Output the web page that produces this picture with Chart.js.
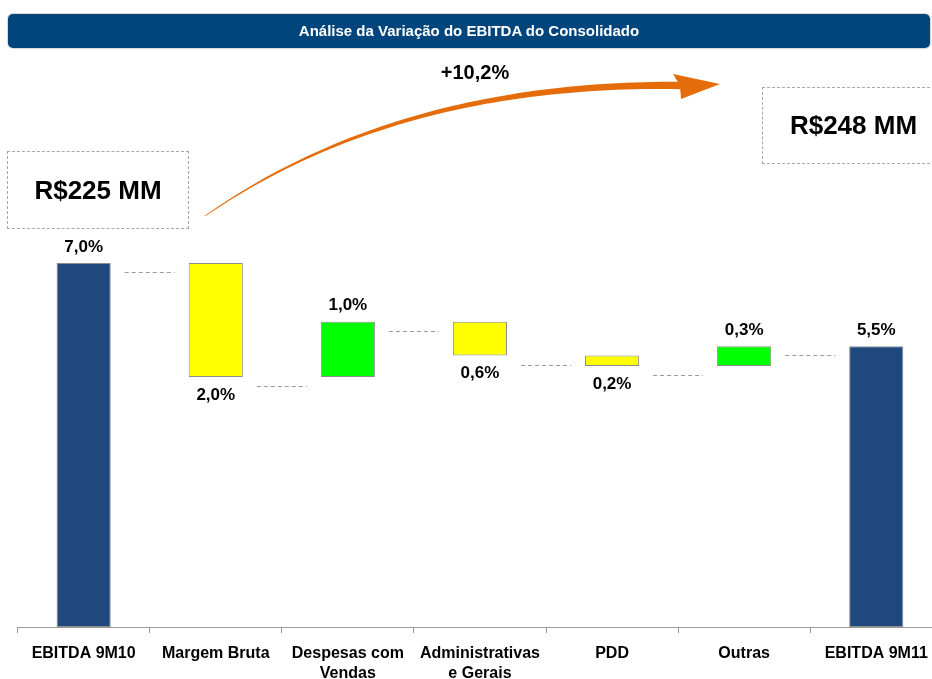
<!DOCTYPE html>
<html>
<head>
<meta charset="utf-8">
<script src="https://cdn.jsdelivr.net/npm/chart.js@4.4.1/dist/chart.umd.min.js"></script>
<style>
  html, body { margin: 0; padding: 0; overflow: hidden; background: #fff; }
  body { width: 932px; height: 679px; position: relative; font-family: "Liberation Sans", Arial, sans-serif; }
  .title-bar {
    position: absolute; left: 8px; top: 14px; width: 922px; height: 34px;
    background: #00457c; border-radius: 5px; box-shadow: 0 0 1px 1px #d8d8d0;
    color: #fff; font-weight: bold; font-size: 15px; line-height: 34px; text-align: center;
  }
  .box {
    position: absolute; border: 1px dashed #a8a8a8; box-sizing: border-box;
    display: flex; align-items: center; justify-content: center;
    font-weight: bold; font-size: 26px; color: #000;
  }
  .growth { position: absolute; left: 425px; top: 61px; width: 100px; text-align: center; font-weight: bold; font-size: 20px; color: #000; }
  .chart-wrap { position: absolute; left: 0; top: 0; width: 960px; height: 679px; }
</style>
</head>
<body>
<div class="chart-wrap"><canvas id="waterfall"></canvas></div>
<div class="title-bar">Análise da Variação do EBITDA do Consolidado</div>
<div class="box" style="left:7px; top:151px; width:182px; height:78px;">R$225 MM</div>
<div class="box" style="left:762px; top:87px; width:183px; height:77px;">R$248 MM</div>
<div class="growth">+10,2%</div>
<script>
// data (percent of revenue)
const categories = ["EBITDA 9M10", "Margem Bruta", ["Despesas com", "Vendas"], ["Administrativas", "e Gerais"], "PDD", "Outras", "EBITDA 9M11"];
const barKinds = ["total", "down", "up", "down", "down", "up", "total"];
const barFrom = [0, 4.81, 4.81, 5.22, 5.02, 5.02, 0];
const barTo = [7.0, 7.0, 5.87, 5.87, 5.22, 5.40, 5.40];
const valueLabels = ["7,0%", "2,0%", "1,0%", "0,6%", "0,2%", "0,3%", "5,5%"];

const FONT = '"Liberation Sans", Arial, sans-serif';
const kindColors = { total: "#1f497d", down: "#ffff00", up: "#00ff00" };

// level where each step ends, used for the dashed connectors
const stepEnds = barKinds.map((k, i) => (k === "down" ? barFrom[i] : barTo[i]));

const valueLabelPlugin = {
  id: "valueLabels",
  afterDatasetsDraw(chart) {
    const { ctx } = chart;
    const meta = chart.getDatasetMeta(0);
    ctx.save();
    ctx.font = "bold 17px " + FONT;
    ctx.fillStyle = "#000";
    ctx.textAlign = "center";
    ctx.textBaseline = "middle";
    meta.data.forEach((bar, i) => {
      const top = Math.min(bar.y, bar.base);
      const bottom = Math.max(bar.y, bar.base);
      if (barKinds[i] === "down") {
        ctx.fillText(valueLabels[i], bar.x, bottom + 18);
      } else {
        ctx.fillText(valueLabels[i], bar.x, top - 16);
      }
    });
    ctx.restore();
  }
};

const connectorPlugin = {
  id: "connectors",
  afterDatasetsDraw(chart) {
    const { ctx } = chart;
    const meta = chart.getDatasetMeta(0);
    const yScale = chart.scales.y;
    ctx.save();
    ctx.strokeStyle = "#9a9a9a";
    ctx.lineWidth = 1;
    ctx.setLineDash([4, 3]);
    for (let i = 0; i < meta.data.length - 1; i++) {
      const a = meta.data[i];
      const b = meta.data[i + 1];
      const y = Math.round(yScale.getPixelForValue(stepEnds[i]) + 9) + 0.5;
      ctx.beginPath();
      ctx.moveTo(a.x + a.width / 2 + 14, y);
      ctx.lineTo(b.x - b.width / 2 - 14, y);
      ctx.stroke();
    }
    ctx.restore();
  }
};

// curved orange arrow between the two EBITDA boxes
const arrowPlugin = {
  id: "growthArrow",
  afterDraw(chart) {
    const { ctx } = chart;
    const p0 = { x: 205, y: 216 };
    const c = { x: 398, y: 82 };
    const p2 = { x: 681, y: 85.5 };
    const n = 60;
    const left = [];
    const right = [];
    for (let s = 0; s <= n; s++) {
      const t = s / n;
      const x = (1 - t) * (1 - t) * p0.x + 2 * t * (1 - t) * c.x + t * t * p2.x;
      const y = (1 - t) * (1 - t) * p0.y + 2 * t * (1 - t) * c.y + t * t * p2.y;
      const dx = 2 * (1 - t) * (c.x - p0.x) + 2 * t * (p2.x - c.x);
      const dy = 2 * (1 - t) * (c.y - p0.y) + 2 * t * (p2.y - c.y);
      const len = Math.hypot(dx, dy);
      const hw = 0.4 + 3.3 * t;
      left.push([x - (dy / len) * hw, y + (dx / len) * hw]);
      right.push([x + (dy / len) * hw, y - (dx / len) * hw]);
    }
    ctx.save();
    ctx.fillStyle = "#e46c0a";
    ctx.beginPath();
    ctx.moveTo(left[0][0], left[0][1]);
    left.forEach(p => ctx.lineTo(p[0], p[1]));
    right.reverse().forEach(p => ctx.lineTo(p[0], p[1]));
    ctx.closePath();
    ctx.fill();
    ctx.beginPath();
    ctx.moveTo(720, 84);
    ctx.lineTo(673, 74);
    ctx.lineTo(680, 85.5);
    ctx.lineTo(681, 99);
    ctx.closePath();
    ctx.fill();
    ctx.restore();
  }
};

const ctx = document.getElementById("waterfall").getContext("2d");
new Chart(ctx, {
  type: "bar",
  data: {
    labels: categories,
    datasets: [{
      data: barFrom.map((from, i) => [from, barTo[i]]),
      backgroundColor: barKinds.map(k => kindColors[k]),
      borderColor: "#8c8c8c",
      borderWidth: 1,
      borderSkipped: false,
      barPercentage: 0.41,
      categoryPercentage: 1.0
    }]
  },
  options: {
    responsive: true,
    maintainAspectRatio: false,
    animation: false,
    layout: { padding: { left: 17.6, right: 17.7, top: 55, bottom: 0 } },
    plugins: { legend: { display: false }, tooltip: { enabled: false } },
    scales: {
      x: {
        grid: { display: true, drawOnChartArea: false, drawTicks: true, tickLength: 6, color: "#9a9a9a", offset: true },
        border: { display: true, color: "#9a9a9a" },
        ticks: {
          color: "#000",
          padding: 11,
          maxRotation: 0,
          autoSkip: false,
          font: { family: FONT, size: 16, weight: "bold", lineHeight: 1.25 }
        },
        afterFit: scale => { scale.height = 52; }
      },
      y: { display: false, min: 0, max: 11 }
    }
  },
  plugins: [connectorPlugin, valueLabelPlugin, arrowPlugin]
});
</script>
</body>
</html>
